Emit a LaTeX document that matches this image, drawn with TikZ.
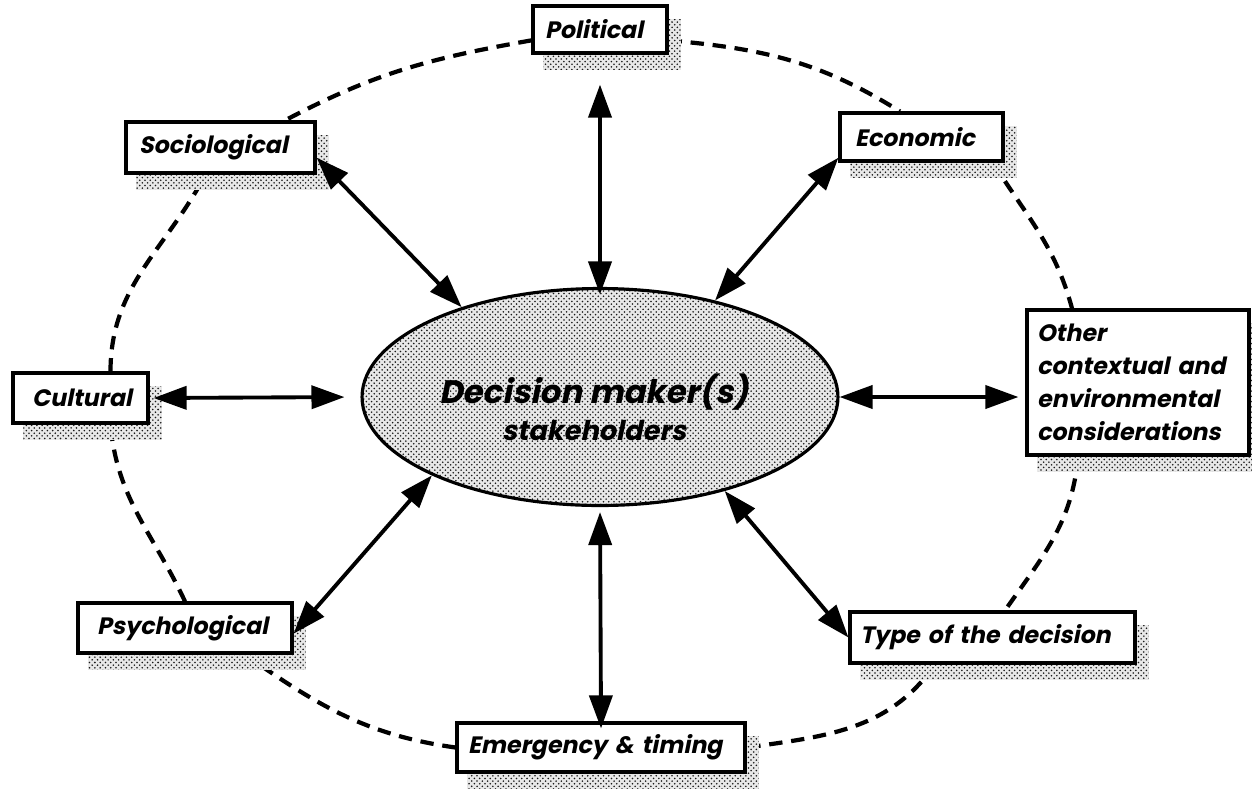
\documentclass[tikz,border=0pt]{standalone}
\usepackage{fontspec}
\newfontfamily\lblfont{Poppins}[FakeSlant=0.2]
\usetikzlibrary{arrows.meta,patterns,shapes.geometric}

\pgfdeclarelayer{back}
\pgfdeclarelayer{under}
\pgfsetlayers{back,under,main}

\tikzset{
  box/.style={draw, line width=1.8pt, fill=white, align=left, inner ysep=0pt,
              font=\lblfont\bfseries\fontsize{13.5}{18.7}\selectfont},
  stipple/.style={preaction={fill=black!9}, pattern=crosshatch dots, pattern color=black!90},
  link/.style={{Triangle[length=0.66cm,width=0.46cm]}-{Triangle[length=0.66cm,width=0.46cm]},
               line width=2.2pt},
  ring/.style={line width=2.4pt, dash pattern=on 7.6pt off 5pt},
}

\begin{document}
\begin{tikzpicture}[x=0.02cm,y=0.02cm]
\useasboundingbox (0,0) rectangle (1252,-789);

% central actor
\node[ellipse, draw, line width=1.8pt, stipple, minimum width=9.52cm,
      minimum height=4.34cm, inner sep=0pt] (dm) at (600,-397) {};
\node[inner sep=0pt, font=\lblfont\bfseries\fontsize{18.5}{22}\selectfont, anchor=base] (dmtitle) at (594,-403)
  {Decision maker(s)};
\node[inner sep=0pt, font=\lblfont\bfseries\fontsize{15.5}{19}\selectfont, anchor=base] (dmsub) at (594,-440)
  {stakeholders};

% surrounding factors
\node[box, text width=2.2cm, inner xsep=0.24cm, minimum height=0.94cm] (pol) at (600,-29.5) {Political};
\node[box, text width=3.26cm, inner xsep=0.26cm, minimum height=1.02cm] (soc) at (220.5,-147.5) {Sociological};
\node[box, text width=2.66cm, inner xsep=0.30cm, minimum height=0.96cm] (eco) at (921.5,-137) {Economic};
\node[box, text width=1.94cm, inner xsep=0.38cm, minimum height=1.0cm] (cul) at (80.5,-398) {Cultural};
\node[box, text width=4.04cm, inner xsep=0.20cm, minimum height=2.9cm] (oth) at (1138,-382.5)
  {Other\\contextual and\\environmental\\considerations};
\node[box, text width=3.52cm, inner xsep=0.38cm, minimum height=1.0cm] (psy) at (185,-628) {Psychological};
\node[box, text width=5.3cm, inner xsep=0.20cm, minimum height=1.02cm] (typ) at (992.5,-637.5) {Type of the decision};
\node[box, text width=5.32cm, inner xsep=0.22cm, minimum height=0.98cm] (emr) at (601,-747.5) {Emergency \& timing};

% stippled drop shadows
\begin{pgfonlayer}{under}
  \foreach \n in {pol,soc,eco,cul,oth,psy,typ,emr}{
    \path[stipple] ([shift={(0.24cm,-0.3cm)}]\n.south west) rectangle ([shift={(0.24cm,-0.3cm)}]\n.north east);
  }
\end{pgfonlayer}

% dashed ring joining the factors
\begin{pgfonlayer}{back}
  \draw[ring] (pol.189) to[out=190,in=28] ([xshift=1.29cm]soc.north);
  \draw[ring] (pol.-9) to[out=-5,in=148] ([xshift=-0.43cm]eco.north);
  \draw[ring] ([xshift=1.43cm]eco.south) to[out=-58,in=105] ([xshift=-1.32cm]oth.north);
  \draw[ring] ([xshift=-1.2cm]oth.south) to[out=-95,in=55] ([xshift=0.25cm]typ.north);
  \draw[ring] ([xshift=-1.15cm]typ.south) to[out=-125,in=8] (emr.east);
  \draw[ring] (emr.west) to[out=172,in=-35] ([xshift=1.2cm]psy.south);
  \draw[ring] (psy.north) to[out=115,in=-85] ([xshift=0.6cm]cul.south);
  \draw[ring] ([xshift=0.6cm]cul.north) to[out=90,in=-118] ([xshift=-0.3cm]soc.south);
\end{pgfonlayer}

% two-way influences
\draw[link, shorten <=0.6cm, shorten >=-0.15cm] (pol.south) -- (dm.north);
\draw[link] (soc.-6) -- (dm.147.6);
\draw[link] (eco.194) -- (dm.40);
\draw[link, shorten <=0.08cm, shorten >=0.32cm] (cul.east) -- (dm.west);
\draw[link, shorten >=0.14cm] (dm.east) -- (dm.east -| oth.west);
\draw[link] (psy.-3) -- (dm.205);
\draw[link, shorten <=0.1cm, shorten >=-0.14cm] (dm.south) -- (emr.north);
\draw[link] (dm.323) -- (typ.west);
\end{tikzpicture}
\end{document}
